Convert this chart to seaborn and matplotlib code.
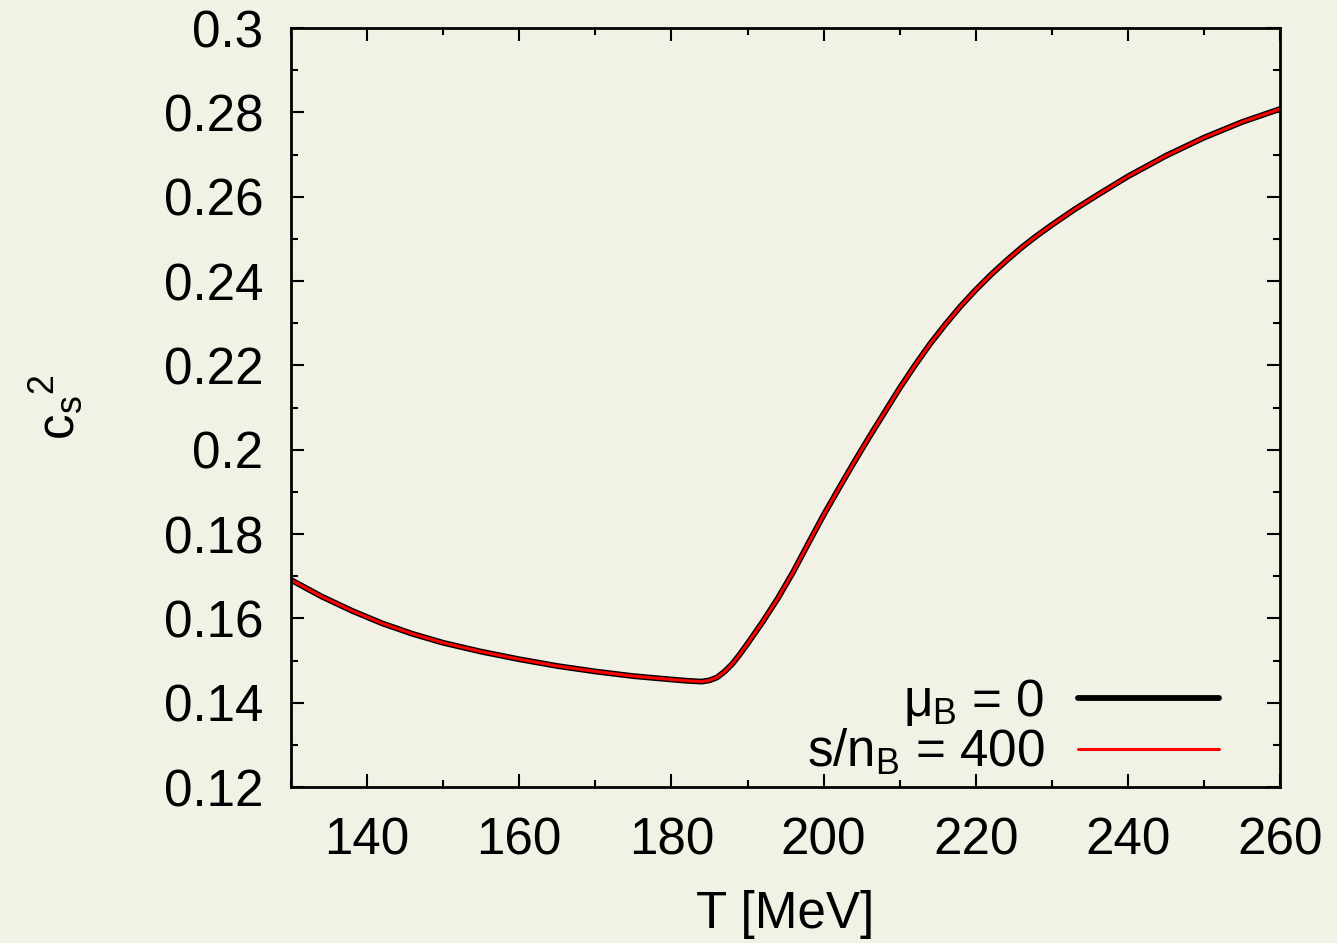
import numpy as np
import pandas as pd
import matplotlib
matplotlib.use("Agg")
import matplotlib.pyplot as plt
import seaborn as sns
from matplotlib.ticker import MultipleLocator, FuncFormatter

# values
temperature = [130, 134, 138, 142, 146, 150, 155, 160, 165, 170, 175, 180,
               182, 183, 184, 185, 186, 187, 188, 189, 190, 192, 194, 196,
               198, 200, 202, 204, 206, 208, 210, 212, 214, 216, 218, 220,
               222, 224, 226, 228, 230, 233, 236, 240, 245, 250, 255, 260]
cs2_mu0 = [0.1691, 0.1652, 0.1618, 0.1588, 0.1563, 0.1542, 0.1521, 0.1503,
           0.1487, 0.1474, 0.1463, 0.1455, 0.1452, 0.1451, 0.1450, 0.1453,
           0.1460, 0.1474, 0.1492, 0.1515, 0.1540, 0.1592, 0.1648, 0.1710,
           0.1778, 0.1845, 0.1908, 0.1970, 0.2030, 0.2088, 0.2146, 0.2200,
           0.2251, 0.2297, 0.2340, 0.2379, 0.2415, 0.2448, 0.2479, 0.2507,
           0.2533, 0.2570, 0.2604, 0.2648, 0.2697, 0.2740, 0.2777, 0.2808]
cs2_s400 = list(cs2_mu0)  # indistinguishable from mu_B = 0 at this scale

labels = [r"$\mu_B$ = 0", r"s/n$_B$ = 400"]

bg = "#f2f1e6"
fs = 36.8

sns.set_theme(style="ticks")
plt.rcParams["font.family"] = ["Liberation Sans", "DejaVu Sans"]
plt.rcParams["mathtext.fontset"] = "custom"
plt.rcParams["mathtext.rm"] = "Liberation Sans"
plt.rcParams["mathtext.it"] = "Liberation Sans"
plt.rcParams["mathtext.bf"] = "Liberation Sans:bold"
for key in ["text.color", "axes.labelcolor", "xtick.color", "ytick.color",
            "axes.edgecolor"]:
    plt.rcParams[key] = "black"

fig = plt.figure(figsize=(13.37, 9.43), dpi=100, facecolor=bg)
ax = fig.add_axes([0.2177, 0.1654, 0.7397, 0.8049])
ax.set_facecolor(bg)

data = pd.DataFrame({
    "T": temperature * 2,
    "cs2": cs2_mu0 + cs2_s400,
    "case": [labels[0]] * len(temperature) + [labels[1]] * len(temperature),
})

sns.lineplot(data=data[data["case"] == labels[0]], x="T", y="cs2", ax=ax,
             color="black", lw=4.2, label=labels[0])
sns.lineplot(data=data[data["case"] == labels[1]], x="T", y="cs2", ax=ax,
             color="#ff0000", lw=2.2, label=labels[1])

ax.set_xlim(130, 260)
ax.set_ylim(0.12, 0.3)
ax.xaxis.set_major_locator(MultipleLocator(20))
ax.xaxis.set_minor_locator(MultipleLocator(10))
ax.yaxis.set_major_locator(MultipleLocator(0.02))
ax.yaxis.set_minor_locator(MultipleLocator(0.01))
ax.yaxis.set_major_formatter(FuncFormatter(lambda v, p: f"{v:g}"))

ax.tick_params(which="both", direction="in", top=True, right=True,
               labelsize=fs, width=1.5, colors="black")
ax.tick_params(which="major", length=9.5)
ax.tick_params(which="minor", length=5)
ax.tick_params(axis="y", which="major", pad=20)
ax.tick_params(axis="x", which="major", pad=21)
for s in ax.spines.values():
    s.set_linewidth(2)
    s.set_color("black")

ax.set_xlabel("T [MeV]", fontsize=fs, labelpad=18)
ax.set_ylabel(r"c$_s$$^2$", fontsize=fs, labelpad=56)

leg = ax.legend(loc="lower right", bbox_to_anchor=(0.9585, -0.015),
                frameon=False, markerfirst=False, fontsize=fs,
                handlelength=2.75, handletextpad=0.65, labelspacing=0.0,
                borderaxespad=0)

fig.savefig("out.png", dpi=100, facecolor=bg)
